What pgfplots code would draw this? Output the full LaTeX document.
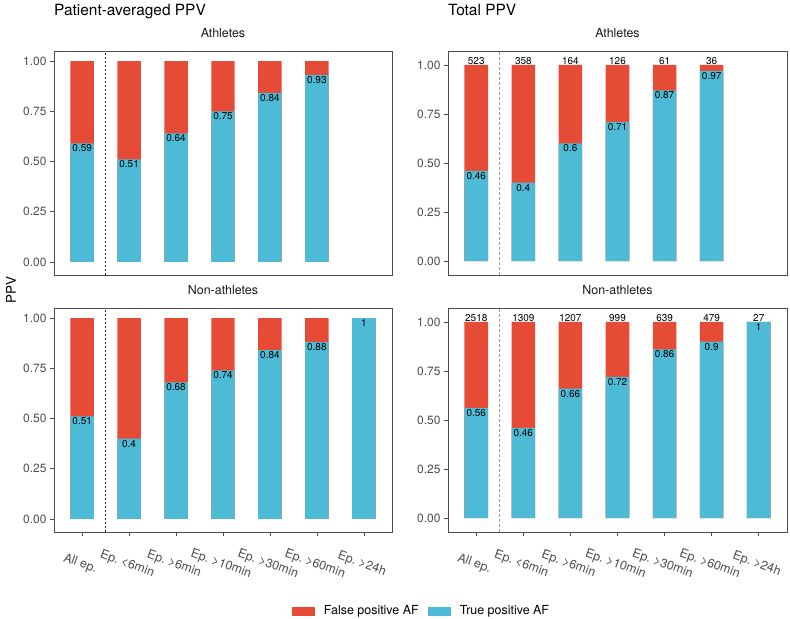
\documentclass[border=0pt]{standalone}
\usepackage{fontspec}
\setmainfont{TeX Gyre Heros}
\usepackage{pgfplots}
\usepackage{pgfplotstable}
\pgfplotsset{compat=1.18}
\frenchspacing

\definecolor{fpred}{HTML}{E64B35}
\definecolor{tpblue}{HTML}{4DBBD5}
\definecolor{ticktext}{HTML}{4D4D4D}
\definecolor{frame}{HTML}{4D4D4D}
\definecolor{striptext}{HTML}{1A1A1A}

% Patient-averaged PPV (x = episode group, v = true positive share, tot = full bar)
\pgfplotstableread{
x v    tot
1 0.59 1
2 0.51 1
3 0.64 1
4 0.75 1
5 0.84 1
6 0.93 1
}\pavAth
\pgfplotstableread{
x v    tot
1 0.51 1
2 0.40 1
3 0.68 1
4 0.74 1
5 0.84 1
6 0.88 1
7 1.00 1
}\pavNon
% Total PPV with number of episodes
\pgfplotstableread{
x v    tot n
1 0.46 1 523
2 0.40 1 358
3 0.60 1 164
4 0.71 1 126
5 0.87 1 61
6 0.97 1 36
}\totAth
\pgfplotstableread{
x v    tot n
1 0.56 1 2518
2 0.46 1 1309
3 0.66 1 1207
4 0.72 1 999
5 0.86 1 639
6 0.90 1 479
7 1.00 1 27
}\totNon

\tikzset{
  splitleft/.style={draw=black!85, line width=0.5bp, dash pattern=on 2bp off 2bp},
  splitright/.style={draw=black!40, line width=0.8bp, dash pattern=on 3bp off 2bp},
}

\pgfplotsset{
  panel/.style={
    scale only axis, width=338bp, height=224bp,
    xmin=0.4, xmax=7.6,
    axis line style={draw=frame, line width=0.6bp},
    tick align=outside, tick pos=left,
    major tick length=4bp,
    tick style={draw=frame, line width=0.6bp},
    ytick={0,0.25,0.5,0.75,1},
    yticklabels={0.00,0.25,0.50,0.75,1.00},
    yticklabel style={font=\fontsize{12}{14}\selectfont, text=ticktext},
    xtick={1,2,3,4,5,6,7},
    xticklabels={All ep., Ep. <6min, Ep. >6min, Ep. >10min, Ep. >30min, Ep. >60min, Ep. >24h},
    xticklabel style={font=\fontsize{12.5}{14}\selectfont, text=ticktext,
      anchor=center, yshift=-28bp, xshift=-2bp, rotate=-20},
    title style={font=\fontsize{12.5}{15}\selectfont, text=striptext,
      anchor=base, at={(0.5,1)}, yshift=8bp, inner sep=0pt},
    /pgf/number format/assume math mode=true,
  },
  toprow/.style={xtick=\empty},
  leftcol/.style={ymin=-0.065, ymax=1.05},
  rightcol/.style={ymin=-0.071, ymax=1.071},
  fpbar/.style={ybar, bar width=0.5, bar shift=0pt, fill=fpred, draw=none},
  tpbar/.style={ybar, bar width=0.5, bar shift=0pt, fill=tpblue, draw=none},
  vallab/.style={draw=none, mark=none, point meta=y,
    nodes near coords={\pgfmathprintnumber[fixed, precision=2, assume math mode=true]{\pgfplotspointmeta}},
    nodes near coords style={anchor=north, inner sep=1.2bp, text=black,
      font=\fontsize{10}{12}\selectfont}},
  cntlab/.style={draw=none, mark=none, point meta=explicit symbolic,
    nodes near coords={\pgfplotspointmeta},
    nodes near coords style={anchor=base, inner sep=0pt, yshift=0.3bp, text=black,
      font=\fontsize{10}{12}\selectfont}},
}

\begin{document}
\begin{tikzpicture}
\useasboundingbox (0,0) rectangle (790bp,619bp);

\node[anchor=base west, inner sep=0pt, font=\fontsize{15.5}{18}\selectfont] at (54bp,603bp) {Patient-averaged PPV};
\node[anchor=base west, inner sep=0pt, font=\fontsize{15.5}{18}\selectfont] at (448bp,603bp) {Total PPV};
\node[rotate=90, inner sep=0pt, font=\fontsize{13.5}{16}\selectfont] at (11bp,329bp) {PPV};

% Patient-averaged, athletes
\begin{axis}[panel, toprow, leftcol, at={(54bp,344bp)}, anchor=south west, title={Athletes}]
  \addplot[fpbar] table[x=x, y=tot] {\pavAth};
  \addplot[tpbar] table[x=x, y=v] {\pavAth};
  \addplot[vallab] table[x=x, y=v] {\pavAth};
  \draw[splitleft] (axis cs:1.5,-0.065) -- (axis cs:1.5,1.05);
\end{axis}

% Total, athletes
\begin{axis}[panel, toprow, rightcol, at={(448bp,344bp)}, anchor=south west, width=339bp, title={Athletes}]
  \addplot[fpbar] table[x=x, y=tot] {\totAth};
  \addplot[tpbar] table[x=x, y=v] {\totAth};
  \addplot[vallab] table[x=x, y=v] {\totAth};
  \addplot[cntlab] table[x=x, y=tot, meta=n] {\totAth};
  \draw[splitright] (axis cs:1.5,-0.071) -- (axis cs:1.5,1.071);
\end{axis}

% Patient-averaged, non-athletes
\begin{axis}[panel, leftcol, at={(54bp,87bp)}, anchor=south west, title={Non-athletes}]
  \addplot[fpbar] table[x=x, y=tot] {\pavNon};
  \addplot[tpbar] table[x=x, y=v] {\pavNon};
  \addplot[vallab] table[x=x, y=v] {\pavNon};
  \draw[splitleft] (axis cs:1.5,-0.065) -- (axis cs:1.5,1.05);
\end{axis}

% Total, non-athletes (carries the shared legend)
\begin{axis}[panel, rightcol, at={(448bp,87bp)}, anchor=south west, width=339bp, title={Non-athletes},
  legend style={at={(-0.0811,-0.353)}, anchor=center, draw=none, fill=none,
    font=\fontsize{12.5}{15}\selectfont, inner sep=0pt,
    /tikz/every odd column/.append style={column sep=9bp},
    /tikz/every even column/.append style={column sep=9bp},
    nodes={inner sep=0pt}},
  legend columns=2,
  legend image code/.code={\fill[#1] (0bp,-4.5bp) rectangle (23bp,4.5bp);}]
  \addlegendimage{fill=fpred, draw=none}
  \addlegendentry{False positive AF}
  \addlegendimage{fill=tpblue, draw=none}
  \addlegendentry{True positive AF}
  \addplot[fpbar] table[x=x, y=tot] {\totNon};
  \addplot[tpbar] table[x=x, y=v] {\totNon};
  \addplot[vallab] table[x=x, y=v] {\totNon};
  \addplot[cntlab] table[x=x, y=tot, meta=n] {\totNon};
  \draw[splitright] (axis cs:1.5,-0.071) -- (axis cs:1.5,1.071);
\end{axis}
\end{tikzpicture}
\end{document}
